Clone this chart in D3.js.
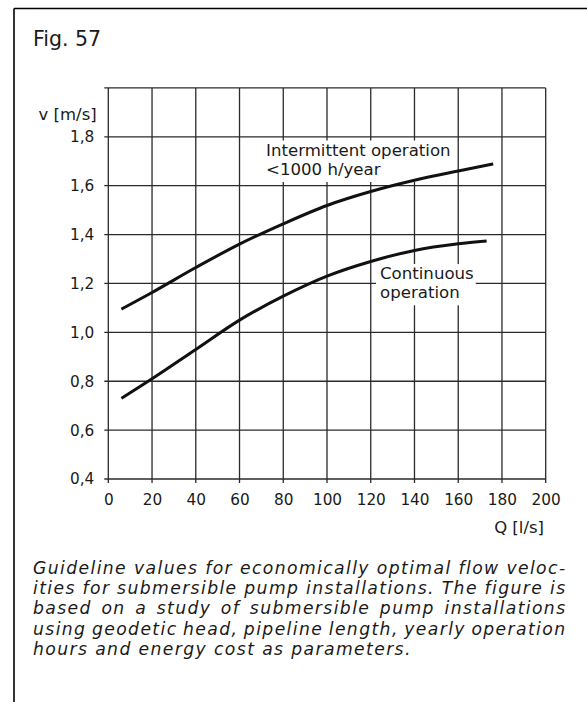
<!DOCTYPE html>
<html>
<head>
<meta charset="utf-8">
<script src="https://cdn.jsdelivr.net/npm/d3@7"></script>
<style>
  html, body { margin: 0; padding: 0; background: #fff; }
  svg { display: block; font-family: "DejaVu Sans", sans-serif; }
</style>
</head>
<body>
<svg id="fig" width="587" height="702"></svg>
<script>
// Guideline curves: flow rate Q [l/s] against recommended velocity v [m/s]
const intermittentQ = [6, 20, 40, 60, 80, 100, 120, 140, 160, 176];
const intermittentV = [1.095, 1.163, 1.265, 1.361, 1.444, 1.519, 1.576, 1.622, 1.660, 1.689];
const continuousQ   = [6, 20, 40, 60, 80, 100, 120, 140, 160, 173];
const continuousV   = [0.73, 0.81, 0.93, 1.05, 1.148, 1.23, 1.29, 1.335, 1.362, 1.374];

// Axis ticks
const qTicks = [0, 20, 40, 60, 80, 100, 120, 140, 160, 180, 200];
const vTicks = [0.4, 0.6, 0.8, 1.0, 1.2, 1.4, 1.6, 1.8];
const vGridLines = [0.4, 0.6, 0.8, 1.0, 1.2, 1.4, 1.6, 1.8, 2.0];

// Texts
const figureTitle = "Fig. 57";
const vAxisTitle = "v [m/s]";
const qAxisTitle = "Q [l/s]";
const intermittentLabel = ["Intermittent operation", "<1000 h/year"];
const continuousLabel = ["Continuous", "operation"];
const captionLines = [
  "Guideline values for economically optimal flow veloc-",
  "ities for submersible pump installations. The figure is",
  "based on a study of submersible pump installations",
  "using geodetic head, pipeline length, yearly operation",
  "hours and energy cost as parameters."
];

const ink = "#1a1a1a";
const svg = d3.select("#fig");

// Decimal comma for the velocity labels
const fmtV = d3.formatLocale({ decimal: ",", thousands: ".", grouping: [3], currency: ["", ""] }).format(".1f");

const x = d3.scaleLinear().domain([0, 200]).range([108.3, 545.7]);
const y = d3.scaleLinear().domain([0.4, 2.0]).range([479, 87.9]);

// Page frame (left and top rules)
svg.append("line").attr("x1", 14).attr("y1", 8.5).attr("x2", 587).attr("y2", 8.5)
  .attr("stroke", "#000").attr("stroke-width", 1.6);
svg.append("line").attr("x1", 14).attr("y1", 8.5).attr("x2", 14).attr("y2", 702)
  .attr("stroke", "#000").attr("stroke-width", 1.6);

svg.append("text").attr("x", 33).attr("y", 45.5)
  .attr("font-size", 20.5).attr("fill", ink).text(figureTitle);

// Grid
const grid = svg.append("g").attr("stroke", "#2a2a2a").attr("stroke-width", 1.3);
grid.selectAll("line.v").data(qTicks).join("line").attr("class", "v")
  .attr("x1", d => x(d)).attr("x2", d => x(d))
  .attr("y1", y(2.0)).attr("y2", y(0.4) + 4);
grid.selectAll("line.h").data(vGridLines).join("line").attr("class", "h")
  .attr("y1", d => y(d)).attr("y2", d => y(d))
  .attr("x1", x(0) - 4).attr("x2", x(200));

// Axes (labels only; the grid above provides the lines and ticks)
const yAxis = d3.axisLeft(y).tickValues(vTicks).tickFormat(fmtV).tickSize(4).tickPadding(10);
const gy = svg.append("g").attr("transform", `translate(${x(0)},0)`).call(yAxis);
const xAxis = d3.axisBottom(x).tickValues(qTicks).tickSize(4).tickPadding(11);
const gx = svg.append("g").attr("transform", `translate(0,${y(0.4)})`).call(xAxis);
[gx, gy].forEach(g => {
  g.select(".domain").remove();
  g.selectAll(".tick line").remove();
  g.selectAll(".tick text").attr("font-family", "DejaVu Sans").attr("font-size", 15.3).attr("fill", ink);
});

svg.append("text").attr("x", 96.7).attr("y", 120).attr("text-anchor", "end")
  .attr("font-size", 16.5).attr("fill", ink).text(vAxisTitle);
svg.append("text").attr("x", 544).attr("y", 532.5).attr("text-anchor", "end")
  .attr("font-size", 16.5).attr("fill", ink).text(qAxisTitle);

// Curve labels on white panels that knock out the grid
function curveLabel(lines, left, baseline, step) {
  const g = svg.append("g");
  const bg = g.append("rect").attr("fill", "#fff");
  const texts = lines.map((s, i) => g.append("text").attr("x", left).attr("y", baseline + i * step)
    .attr("font-size", 16.6).attr("fill", ink).text(s));
  const boxes = texts.map(t => t.node().getBBox());
  const x0 = d3.min(boxes, b => b.x), x1 = d3.max(boxes, b => b.x + b.width);
  const y0 = baseline - 15, y1 = baseline + (lines.length - 1) * step + 7;
  bg.attr("x", x0 - 4).attr("y", y0).attr("width", x1 - x0 + 6).attr("height", y1 - y0);
  return g;
}
curveLabel(intermittentLabel, 266, 155.5, 19.5);
curveLabel(continuousLabel, 380, 279, 19.3);

// Curves
const line = d3.line().x(d => x(d[0])).y(d => y(d[1])).curve(d3.curveMonotoneX);
const curves = [
  d3.zip(intermittentQ, intermittentV),
  d3.zip(continuousQ, continuousV)
];
svg.append("g").selectAll("path").data(curves).join("path")
  .attr("d", line).attr("fill", "none").attr("stroke", "#111")
  .attr("stroke-width", 3).attr("stroke-linecap", "butt");

// Caption, justified between the text margins
const capLeft = 33, capRight = 566.5, capTop = 574, capStep = 20.2;
const cap = svg.append("g").attr("font-style", "italic").attr("fill", ink);
const capNodes = captionLines.map((s, i) =>
  cap.append("text").attr("x", capLeft).attr("y", capTop + i * capStep).attr("font-size", 16).text(s));
// size from the first line, a little tracking, then word spacing per justified line
const w16 = capNodes[0].node().getComputedTextLength();
const capSize = Math.min(17.2, 16 * (capRight - capLeft) / w16);
capNodes.forEach(n => n.attr("font-size", capSize));
const w0 = capNodes[0].node().getComputedTextLength();
const ls = Math.max(0, (capRight - capLeft - w0) / captionLines[0].length);
capNodes.forEach(n => n.attr("letter-spacing", ls));
capNodes.forEach((n, i) => {
  if (i === captionLines.length - 1) return;
  const w = n.node().getComputedTextLength();
  const spaces = (captionLines[i].match(/ /g) || []).length;
  n.attr("word-spacing", (capRight - capLeft - w) / spaces);
});
</script>
</body>
</html>
